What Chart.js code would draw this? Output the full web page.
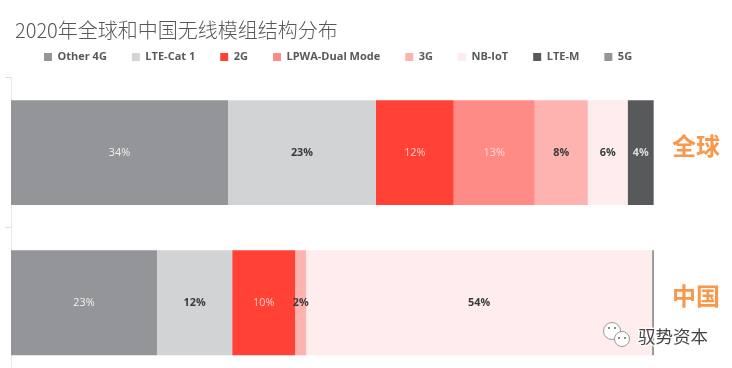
<!DOCTYPE html>
<html><head><meta charset="utf-8">
<style>html,body{margin:0;padding:0;background:#fff;overflow:hidden;width:732px;height:368px}
#w{width:732px;height:368px;overflow:hidden;filter:blur(0.35px)}canvas{display:block}</style>
<script src="https://cdn.jsdelivr.net/npm/chart.js@4"></script></head>
<body><div id="w"><canvas id="c" width="732" height="379"></canvas></div>
<script>
const categories = ['全球','中国'];
const other4G = [33.75,22.7];
const lteCat1 = [23,11.7];
const g2 = [12.1,9.8];
const lpwa = [12.6,0];
const g3 = [8.25,1.7];
const nbIot = [6.2,53.8];
const lteM = [4.05,0];
const g5 = [0,0.3];
const titleText = '2020年全球和中国无线模组结构分布';
const watermark = '驭势资本';
const FONT = '"Open Sans","Noto Sans CJK SC",sans-serif';
const ds = (label,data,color,labelColor,bold)=>({label,data,backgroundColor:color,borderWidth:0,labelColor,bold,categoryPercentage:1,barPercentage:0.698});
const shiftBlocks = {id:'shiftBlocks',afterLayout(chart){
  chart.titleBlock.left = 15;
  chart.legend.left += 19;
  chart.legend.top -= 5;
}};
const valueLabels = {id:'valueLabels',afterDatasetsDraw(chart){
  const {ctx}=chart;
  ctx.save();ctx.textAlign='center';ctx.textBaseline='middle';
  chart.data.datasets.forEach((d,i)=>{
    chart.getDatasetMeta(i).data.forEach((bar,j)=>{
      if(d.data[j]<1)return;
      ctx.fillStyle=d.labelColor;
      ctx.font=(d.bold?'700 ':'400 ')+'10.8px '+FONT;
      const c=bar.getCenterPoint();
      ctx.fillText(Math.round(d.data[j])+'%',c.x,c.y);
    });
  });
  ctx.restore();
}};
const mark = {id:'mark',afterDraw(chart){
  const {ctx}=chart;
  ctx.save();
  ctx.font='400 17.5px "Noto Sans CJK SC"';ctx.textBaseline='middle';ctx.textAlign='left';
  ctx.lineWidth=3;ctx.strokeStyle='rgba(255,255,255,.85)';ctx.strokeText(watermark,638,336);
  ctx.fillStyle='#444';ctx.fillText(watermark,638,336);
  [[612,331,8.5],[622,339,7.5]].forEach(([x,y,r])=>{
    ctx.beginPath();ctx.arc(x,y,r,0,Math.PI*2);ctx.fillStyle='#fff';ctx.fill();ctx.lineWidth=1;ctx.strokeStyle='#999';ctx.stroke();
  });
  ctx.fillStyle='#666';
  [[609,328],[615,328],[619,338],[625,338]].forEach(([x,y])=>{ctx.beginPath();ctx.arc(x,y,1,0,Math.PI*2);ctx.fill();});
  ctx.restore();
}};
new Chart(document.getElementById('c'),{
  type:'bar',
  data:{labels:categories,datasets:[
    ds('Other 4G',other4G,'#939598','#f1f1f2',false),
    ds('LTE-Cat 1',lteCat1,'#d1d3d4','#3a3a3c',true),
    ds('2G',g2,'#ff4136','#ffd0cc',false),
    ds('LPWA-Dual Mode',lpwa,'#ff8b86','#ffd9d6',false),
    ds('3G',g3,'#ffb3b0','#3a3a3c',true),
    ds('NB-IoT',nbIot,'#ffecec','#3a3a3c',true),
    ds('LTE-M',lteM,'#58595b','#dcdcdc',true),
    ds('5G',g5,'#939598','#f1f1f2',false)
  ]},
  options:{
    indexAxis:'y',responsive:false,animation:false,
    layout:{padding:0},
    scales:{
      x:{stacked:true,min:0,max:100,display:false},
      y:{stacked:true,position:'left',
        grid:{drawOnChartArea:false,tickLength:6,color:'#dddddd',offset:true},
        border:{color:'#e6e6e6'},
        ticks:{callback:()=>'',padding:0,font:{size:1,lineHeight:0.1}},
        afterFit(a){a.width=11;}},
      y2:{type:'category',labels:categories,position:'right',
        grid:{display:true,drawOnChartArea:false,tickLength:18,color:'rgba(0,0,0,0)'},border:{display:false},
        ticks:{color:'#f9974a',labelOffset:-7,padding:0,font:{family:'"Noto Sans CJK SC"',size:24,weight:'700',lineHeight:0.1}},
        afterFit(a){a.width=78;}}
    },
    plugins:{
      tooltip:{enabled:false},
      title:{display:true,text:titleText,align:'start',color:'#555759',
        font:{family:'"Noto Sans CJK SC","Open Sans"',size:20,weight:'300'},padding:{top:18,bottom:-10.5}},
      legend:{position:'top',align:'start',
        labels:{boxWidth:8,boxHeight:8,padding:25,color:'#58595b',font:{family:FONT,size:11,weight:'700'}}}
    }
  },
  plugins:[shiftBlocks,valueLabels,mark]
});
</script></body></html>
